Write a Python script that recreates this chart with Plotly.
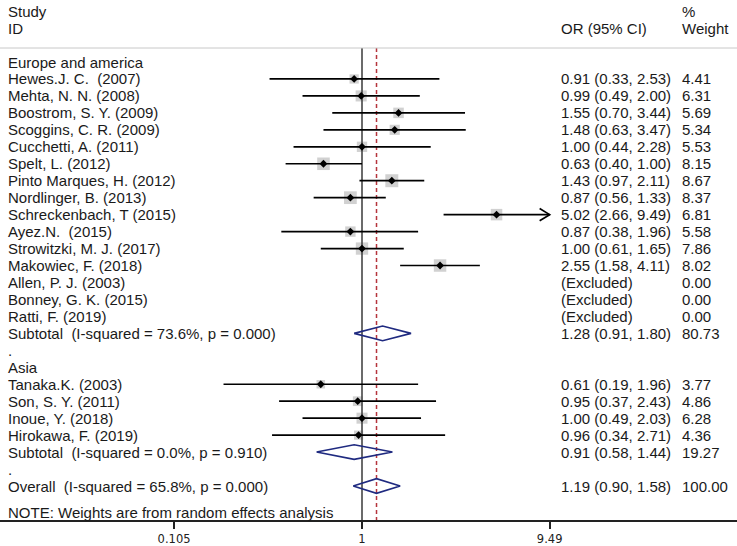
import math
import plotly.graph_objects as go

# ---------------- data ----------------
eu_studies = ["Hewes.J. C.  (2007)", "Mehta, N. N. (2008)", "Boostrom, S. Y. (2009)",
              "Scoggins, C. R. (2009)", "Cucchetti, A. (2011)", "Spelt, L. (2012)",
              "Pinto Marques, H. (2012)", "Nordlinger, B. (2013)", "Schreckenbach, T (2015)",
              "Ayez.N.  (2015)", "Strowitzki, M. J. (2017)", "Makowiec, F. (2018)",
              "Allen, P. J. (2003)", "Bonney, G. K. (2015)", "Ratti, F. (2019)"]
eu_or = [0.91, 0.99, 1.55, 1.48, 1.00, 0.63, 1.43, 0.87, 5.02, 0.87, 1.00, 2.55, None, None, None]
eu_lo = [0.33, 0.49, 0.70, 0.63, 0.44, 0.40, 0.97, 0.56, 2.66, 0.38, 0.61, 1.58, None, None, None]
eu_hi = [2.53, 2.00, 3.44, 3.47, 2.28, 1.00, 2.11, 1.33, 9.49, 1.96, 1.65, 4.11, None, None, None]
eu_w = [4.41, 6.31, 5.69, 5.34, 5.53, 8.15, 8.67, 8.37, 6.81, 5.58, 7.86, 8.02, 0.00, 0.00, 0.00]
eu_sub = dict(label="Subtotal  (I-squared = 73.6%, p = 0.000)", est=1.28, lo=0.91, hi=1.80, w=80.73)

asia_studies = ["Tanaka.K. (2003)", "Son, S. Y. (2011)", "Inoue, Y. (2018)", "Hirokawa, F. (2019)"]
asia_or = [0.61, 0.95, 1.00, 0.96]
asia_lo = [0.19, 0.37, 0.49, 0.34]
asia_hi = [1.96, 2.43, 2.03, 2.71]
asia_w = [3.77, 4.86, 6.28, 4.36]
asia_sub = dict(label="Subtotal  (I-squared = 0.0%, p = 0.910)", est=0.91, lo=0.58, hi=1.44, w=19.27)

overall = dict(label="Overall  (I-squared = 65.8%, p = 0.000)", est=1.19, lo=0.90, hi=1.58, w=100.00)

tick_vals = [0.105, 1, 9.49]
tick_text = ["0.105", "1", "9.49"]

# ---------------- layout helpers ----------------
W, H = 737, 546
PX_PER_DEC = 192.0
X1_PX = 362.0
ROW0_PX = 62.0
ROW_H = 16.96
AXIS_PX = 520.0
x_range = [-X1_PX / PX_PER_DEC, (W - X1_PX) / PX_PER_DEC]
y_range = [(AXIS_PX - ROW0_PX) / ROW_H, (0 - ROW0_PX) / ROW_H]
xmax_val = tick_vals[-1]

def prow(p):
    return (p - ROW0_PX) / ROW_H

# build rows
rows = []  # (kind, label, est, lo, hi, w)
rows.append(("head", "Europe and america", None, None, None, None))
for s, o, l, h, w in zip(eu_studies, eu_or, eu_lo, eu_hi, eu_w):
    rows.append(("study", s, o, l, h, w))
rows.append(("sub", eu_sub["label"], eu_sub["est"], eu_sub["lo"], eu_sub["hi"], eu_sub["w"]))
rows.append(("dot", ".", None, None, None, None))
rows.append(("head", "Asia", None, None, None, None))
for s, o, l, h, w in zip(asia_studies, asia_or, asia_lo, asia_hi, asia_w):
    rows.append(("study", s, o, l, h, w))
rows.append(("sub", asia_sub["label"], asia_sub["est"], asia_sub["lo"], asia_sub["hi"], asia_sub["w"]))
rows.append(("dot", ".", None, None, None, None))
rows.append(("sub", overall["label"], overall["est"], overall["lo"], overall["hi"], overall["w"]))

FONT = "Liberation Sans, Arial, sans-serif"
FS = 15
TXT = "#1a1a1a"

fig = go.Figure()

# boxes
bx, by, bs = [], [], []
for i, (k, lab, e, l, h, w) in enumerate(rows):
    if k == "study" and e is not None:
        bx.append(e); by.append(i); bs.append(4.4 * math.sqrt(w))
fig.add_trace(go.Scatter(x=bx, y=by, mode="markers",
                         marker=dict(symbol="square", size=bs, color="#bdbdbd", line=dict(width=0)),
                         hoverinfo="skip"))

# null line and overall line
top_y = prow(48)
fig.add_trace(go.Scatter(x=[1, 1], y=[top_y, y_range[0]], mode="lines",
                         line=dict(color="#3a3a3a", width=1.5), hoverinfo="skip"))
fig.add_trace(go.Scatter(x=[overall["est"], overall["est"]], y=[top_y, y_range[0]], mode="lines",
                         line=dict(color="#b5343c", width=1.5, dash="4px,3px"), hoverinfo="skip"))

# CI lines
cx, cy = [], []
arrows = []
for i, (k, lab, e, l, h, w) in enumerate(rows):
    if k == "study" and e is not None:
        cx += [l, min(h, xmax_val), None]; cy += [i, i, None]
        if h >= xmax_val:
            arrows.append(i)
fig.add_trace(go.Scatter(x=cx, y=cy, mode="lines", line=dict(color="black", width=1.7),
                         hoverinfo="skip"))
# arrow heads
for i in arrows:
    f = 10 ** (10 / PX_PER_DEC)
    fig.add_trace(go.Scatter(x=[xmax_val / f, xmax_val, xmax_val / f],
                             y=[i - 0.36, i, i + 0.36], mode="lines",
                             line=dict(color="black", width=1.7), hoverinfo="skip"))

# point estimates
px_, py_ = [], []
for i, (k, lab, e, l, h, w) in enumerate(rows):
    if k == "study" and e is not None:
        px_.append(e); py_.append(i)
fig.add_trace(go.Scatter(x=px_, y=py_, mode="markers",
                         marker=dict(symbol="diamond", size=6, color="black"), hoverinfo="skip"))

# diamonds
dh = 0.43
for i, (k, lab, e, l, h, w) in enumerate(rows):
    if k == "sub":
        fig.add_trace(go.Scatter(x=[l, e, h, e, l], y=[i, i - dh, i, i + dh, i], mode="lines",
                                 line=dict(color="#1f2a80", width=1.6), hoverinfo="skip"))

# texts
ann = []
def txt(xpx, y, s, size=FS, family=FONT):
    ann.append(dict(x=(xpx - 2.5) / W, y=y, xref="paper", yref="y", text=s,
                    showarrow=False, xanchor="left", yanchor="middle",
                    font=dict(family=family, size=size, color=TXT)))

X_LAB, X_OR, X_W = 8, 561, 682
txt(X_LAB, prow(11), "Study")
txt(X_LAB, prow(28), "ID")
txt(X_OR, prow(28), "OR (95% CI)")
txt(X_W, prow(11), "%")
txt(X_W, prow(28), "Weight")
for i, (k, lab, e, l, h, w) in enumerate(rows):
    txt(X_LAB, i, lab)
    if k in ("study", "sub"):
        if e is None:
            txt(X_OR, i, "(Excluded)")
        else:
            txt(X_OR, i, f"{e:.2f} ({l:.2f}, {h:.2f})")
        txt(X_W, i, f"{w:.2f}")
txt(X_LAB, prow(512), "NOTE: Weights are from random effects analysis")

shapes = [dict(type="line", xref="paper", yref="y", x0=0, x1=1, y0=top_y, y1=top_y,
               line=dict(color="#c8c8c8", width=1))]

fig.update_layout(
    width=W, height=H,
    margin=dict(l=0, r=0, t=0, b=H - AXIS_PX),
    paper_bgcolor="white", plot_bgcolor="white",
    showlegend=False,
    annotations=ann, shapes=shapes,
    xaxis=dict(type="log", range=x_range, tickvals=tick_vals, ticktext=tick_text,
               ticks="outside", ticklen=7, tickwidth=1.5, tickcolor="#222",
               showline=True, linecolor="#222", linewidth=1.5, showgrid=False, zeroline=False,
               tickfont=dict(family="DejaVu Sans", size=11.5, color="#222"), fixedrange=True),
    yaxis=dict(range=y_range, visible=False, showgrid=False, zeroline=False, fixedrange=True),
)

fig.write_html("out.html", config={"displayModeBar": False},
               post_script="document.body.style.margin='0';")
